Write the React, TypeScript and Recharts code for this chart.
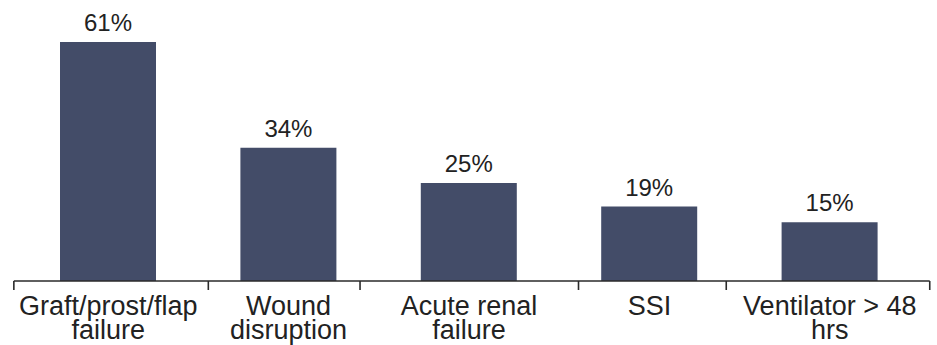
import { BarChart, Bar, XAxis, YAxis, LabelList } from 'recharts';

const CATEGORIES = [
  'Graft/prost/flap\nfailure',
  'Wound\ndisruption',
  'Acute renal\nfailure',
  'SSI',
  'Ventilator > 48\nhrs',
];
const RATES = [61, 34, 25, 19, 15];

// where the axis tick marks sit, in category-band units
const TICK_EDGES = [-0.023, 1.055, 1.896, 3.107, 3.926, 5.054];

const data = CATEGORIES.map((name, i) => ({ name, rate: RATES[i] }));

const W = 937;
const H = 345;
const MARGIN = { top: 42, right: 17, bottom: 0, left: 18 };
const BAND = (W - MARGIN.left - MARGIN.right) / CATEGORIES.length;

const BAR_COLOR = '#434c68';
const INK = '#222222';
const FONT = '"Liberation Sans", Arial, Helvetica, sans-serif';

const CategoryTick = ({ x, y, payload, index }: any) => {
  const lines = String(payload.value).split('\n');
  const edgeX = (i: number) => x + (TICK_EDGES[i] - (index + 0.5)) * BAND;
  const left = edgeX(index);
  const last = index === CATEGORIES.length - 1;
  return (
    <g>
      {index === 0 && (
        <line x1={left} x2={x + (TICK_EDGES[TICK_EDGES.length - 1] - 0.5) * BAND} y1={y} y2={y} stroke="#2a2a2a" strokeWidth={1.6} />
      )}
      <line x1={left} x2={left} y1={y} y2={y + 9} stroke="#2a2a2a" strokeWidth={1.6} />
      {last && (
        <line x1={edgeX(index + 1)} x2={edgeX(index + 1)} y1={y} y2={y + 9} stroke="#2a2a2a" strokeWidth={1.6} />
      )}
      <text x={x} y={y} textAnchor="middle" fill={INK} fontSize={27} fontFamily={FONT}>
        {lines.map((ln, i) => (
          <tspan key={i} x={x} dy={i === 0 ? 34 : 24}>{ln}</tspan>
        ))}
      </text>
    </g>
  );
};

export default function App() {
  return (
    <div style={{ position: 'absolute', left: 0, top: 0, width: W, height: H, background: '#fff' }}>
      <BarChart width={W} height={H} data={data} margin={MARGIN}>
        <XAxis
          dataKey="name"
          axisLine={false}
          tickLine={false}
          tickSize={0}
          tickMargin={0}
          height={64}
          interval={0}
          tick={<CategoryTick />}
        />
        <YAxis hide domain={[0, 'dataMax']} />
        <Bar dataKey="rate" fill={BAR_COLOR} barSize={96} isAnimationActive={false}>
          <LabelList
            dataKey="rate"
            position="top"
            offset={11}
            formatter={(v: any) => `${v}%`}
            style={{ fill: INK, fontSize: 24, fontFamily: FONT }}
          />
        </Bar>
      </BarChart>
    </div>
  );
}
